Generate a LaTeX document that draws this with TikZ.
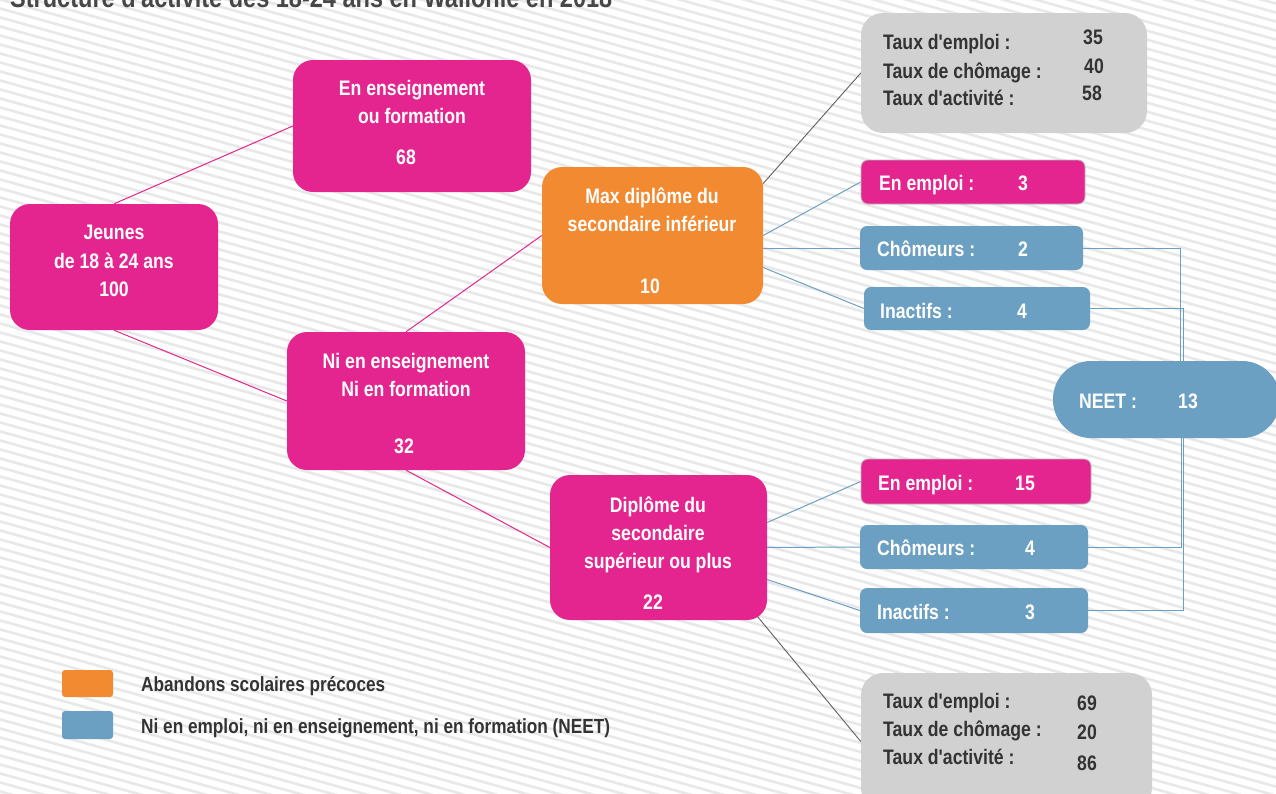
\documentclass[tikz,border=0pt]{standalone}
\usepackage{fontspec}
\setmainfont{Liberation Sans}[FakeStretch=0.84, Ligatures=TeXOff]
\usetikzlibrary{calc}
\definecolor{mag}{HTML}{E5258F}
\definecolor{org}{HTML}{F28A31}
\definecolor{blu}{HTML}{6CA0C2}
\definecolor{gbox}{HTML}{D1D1D1}
\definecolor{gline}{HTML}{606060}
\definecolor{dtext}{HTML}{333333}
\definecolor{stripe}{HTML}{E8E8E8}
\pgfdeclarelayer{bg}
\pgfsetlayers{bg,main}
\tikzset{
  bigbox/.style={rectangle, rounded corners=20pt, inner sep=0pt, draw=none},
  smallbox/.style={rectangle, rounded corners=7pt, inner sep=0pt, draw=none},
  magbox/.style={bigbox, fill=mag},
  orgbox/.style={bigbox, fill=org},
  graybox/.style={rectangle, rounded corners=22pt, inner sep=0pt, fill=gbox},
  wt/.style={anchor=base, text=white, inner sep=0pt, font=\fontsize{21}{25}\selectfont\bfseries},
  wtl/.style={wt, anchor=base west},
  dt/.style={anchor=base west, text=dtext, inner sep=0pt, font=\fontsize{21}{25}\selectfont\bfseries},
  dtc/.style={dt, anchor=base},
  lt/.style={anchor=base west, text=dtext, inner sep=0pt, font=\fontsize{20.5}{24}\selectfont\bfseries},
  pinkl/.style={draw=mag, line width=1pt},
  bluel/.style={draw=blu, line width=1pt},
  grayl/.style={draw=gline, line width=0.9pt},
}
\begin{document}
\begin{tikzpicture}[x=1pt,y=-1pt]
\useasboundingbox (0,0) rectangle (1276,793);
\clip (0,0) rectangle (1276,793);

% title
\node[anchor=base west, text=dtext!90, inner sep=0pt, font=\fontsize{28}{32}\selectfont\bfseries] (title) at (10,7) {Structure d'activité des 18-24 ans en Wallonie en 2018};

% main boxes
\node[magbox, minimum width=208pt, minimum height=126pt] (jeunes) at (114,267) {};
\node[magbox, minimum width=238pt, minimum height=132pt] (enens) at (412,126) {};
\node[magbox, minimum width=238pt, minimum height=138pt] (ni) at (406,401) {};
\node[orgbox, minimum width=221pt, minimum height=137pt] (max) at (652.5,235.5) {};
\node[magbox, minimum width=217pt, minimum height=145pt] (dipl) at (658.5,547.5) {};

\node[wt] (j1) at (114,239) {Jeunes};
\node[wt] (j2) at (114,268) {de 18 à 24 ans};
\node[wt] (j3) at (114,296) {100};
\node[wt] (e1) at (412,95) {En enseignement};
\node[wt] (e2) at (412,123) {ou formation};
\node[wt] (e3) at (406,164) {68};
\node[wt] (n1) at (406,368) {Ni en enseignement};
\node[wt] (n2) at (406,396) {Ni en formation};
\node[wt] (n3) at (404,453) {32};
\node[wt] (m1) at (652,203) {Max diplôme du};
\node[wt] (m2) at (652,231) {secondaire inférieur};
\node[wt] (m3) at (650,293) {10};
\node[wt] (d1) at (658,512) {Diplôme du};
\node[wt] (d2) at (658,540) {secondaire};
\node[wt] (d3) at (658,568) {supérieur ou plus};
\node[wt] (d4) at (653,609) {22};

% gray boxes
\node[graybox, minimum width=286pt, minimum height=120pt] (grayT) at (1004,73) {};
\node[dt] (gt1) at (883,49) {Taux d'emploi :};
\node[dt] (gt2) at (883,78) {Taux de chômage :};
\node[dt] (gt3) at (883,105) {Taux d'activité :};
\node[dtc] (gv1) at (1093,44) {35};
\node[dtc] (gv2) at (1094,73) {40};
\node[dtc] (gv3) at (1092,100) {58};

\node[graybox, minimum width=291pt, minimum height=137pt] (grayB) at (1006.5,741.5) {};
\node[dt] (gb1) at (883,708) {Taux d'emploi :};
\node[dt] (gb2) at (883,736) {Taux de chômage :};
\node[dt] (gb3) at (883,764) {Taux d'activité :};
\node[dtc] (gw1) at (1087,710) {69};
\node[dtc] (gw2) at (1087,739) {20};
\node[dtc] (gw3) at (1087,770) {86};

% small boxes
\node[smallbox, fill=mag, draw=gray!55, line width=0.8pt, minimum width=224pt, minimum height=44pt] (ee1) at (973,182) {};
\node[smallbox, fill=blu, minimum width=223pt, minimum height=44pt] (ch1) at (971.5,248) {};
\node[smallbox, fill=blu, minimum width=226pt, minimum height=43pt] (in1) at (977,308.5) {};
\node[smallbox, fill=mag, draw=gray!55, line width=0.8pt, minimum width=230pt, minimum height=45pt] (ee2) at (976,481.5) {};
\node[smallbox, fill=blu, minimum width=228pt, minimum height=44pt] (ch2) at (974,547) {};
\node[smallbox, fill=blu, minimum width=228pt, minimum height=45pt] (in2) at (974,610.5) {};
\node[rectangle, rounded corners=38pt, inner sep=0pt, fill=blu, minimum width=227pt, minimum height=77pt] (neet) at (1166.5,399.5) {};

\node[wtl] (ee1a) at (879,190) {En emploi :};
\node[wt] (ee1b) at (1023,190) {3};
\node[wtl] (ch1a) at (877,256) {Chômeurs :};
\node[wt] (ch1b) at (1023,256) {2};
\node[wtl] (in1a) at (880,318) {Inactifs :};
\node[wt] (in1b) at (1022,318) {4};
\node[wtl] (ee2a) at (878,490) {En emploi :};
\node[wt] (ee2b) at (1025,490) {15};
\node[wtl] (ch2a) at (877,555) {Chômeurs :};
\node[wt] (ch2b) at (1030,555) {4};
\node[wtl] (in2a) at (877,619) {Inactifs :};
\node[wt] (in2b) at (1030,619) {3};
\node[wtl] (neeta) at (1079,408) {NEET :};
\node[wt] (neetb) at (1188,408) {13};

% legend
\node[rectangle, rounded corners=3pt, fill=org, inner sep=0pt, minimum width=51pt, minimum height=27pt] (legO) at (87.5,683.5) {};
\node[rectangle, rounded corners=3pt, fill=blu, inner sep=0pt, minimum width=51pt, minimum height=28pt] (legB) at (87.5,725) {};
\node[lt] (legOt) at (141,691) {Abandons scolaires précoces};
\node[lt] (legBt) at (141,733) {Ni en emploi, ni en enseignement, ni en formation (NEET)};

\begin{pgfonlayer}{bg}
\clip (0,0) rectangle (1276,793);
\fill[white] (0,0) rectangle (1276,793);
\foreach \c in {-380,-371,...,800} \draw[stripe, line width=2.6pt] (-5,\c) -- (1281,\c+358);
\draw[pinkl] (jeunes.north) -- (enens.west);
\draw[pinkl] (jeunes.south) -- (ni.west);
\draw[pinkl] (ni.north) -- (max.west);
\draw[pinkl] (ni.south) -- (dipl.west);
\draw[grayl] ($(max.east)+(0,-52)$) -- (grayT.west);
\draw[bluel] (max.east) -- (ee1.west);
\draw[bluel] ($(max.east)+(0,12.5)$) -- (ch1.west);
\draw[bluel] ($(max.east)+(0,32)$) -- (in1.west);
\draw[bluel] ($(dipl.east)+(0,-25)$) -- (ee2.west);
\draw[bluel] (dipl.east) -- (ch2.west);
\draw[bluel] ($(dipl.east)+(0,32)$) -- (in2.west);
\draw[grayl] ($(dipl.south east)+(-10,-4)$) -- (grayB.west);
\draw[bluel] (ch1.east) -| ([xshift=13.5pt]neet.north);
\draw[bluel] (in1.east) -| ([xshift=16.5pt]neet.north);
\draw[bluel] (ch2.east) -| ([xshift=15pt]neet.south);
\draw[bluel] (in2.east) -| ([xshift=16.5pt]neet.south);
\end{pgfonlayer}
\end{tikzpicture}
\end{document}
